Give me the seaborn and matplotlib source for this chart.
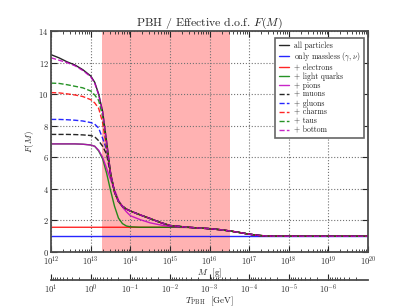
import numpy as np
import pandas as pd
import matplotlib
matplotlib.use("Agg")
import matplotlib.pyplot as plt
import seaborn as sns

# log10 of PBH mass in grams
log_m = [12.0, 12.2, 12.4, 12.6, 12.8, 13.0, 13.1, 13.2, 13.3, 13.4, 13.5, 13.6, 13.7,
         13.8, 13.9, 14.0, 14.25, 14.5, 14.75, 15.0, 15.5, 16.0, 16.25, 16.5, 16.75,
         17.0, 17.25, 17.5, 18.0, 19.0, 20.0]

tail = [1.56, 1.48, 1.42, 1.34, 1.24, 1.13, 1.05, 1.01, 1.0, 1.0, 1.0]  # 15.5 .. 20
common = [5.0, 3.8, 3.2, 2.9, 2.72, 2.6, 2.35, 2.12, 1.88, 1.68] + tail  # 13.5 .. 20

f_all = [12.5, 12.3, 12.05, 11.85, 11.55, 11.15, 10.75, 10.0, 8.9, 7.0] + common
f_massless = [1.0] * 31
f_electrons = [1.57] * 20 + tail
f_quarks = [6.85, 6.85, 6.85, 6.85, 6.83, 6.78, 6.7, 6.4, 5.9, 5.0, 3.9, 2.9, 2.15,
            1.8, 1.65, 1.6, 1.57, 1.57, 1.57, 1.57] + tail
f_pions = [6.85, 6.85, 6.85, 6.85, 6.83, 6.78, 6.7, 6.45, 6.0, 5.3, 4.6, 3.95, 3.3,
           2.85, 2.55, 2.3, 2.05, 1.85, 1.72, 1.62] + tail
f_muons = [7.45, 7.45, 7.45, 7.44, 7.42, 7.38, 7.3, 7.05, 6.7, 6.2, 4.9] + common[1:]
f_gluons = [8.4, 8.4, 8.38, 8.35, 8.3, 8.2, 8.1, 7.85, 7.2, 6.5] + common
f_charms = [10.1, 10.08, 10.02, 9.95, 9.85, 9.65, 9.45, 9.1, 8.2, 6.6] + common
f_taus = [10.7, 10.68, 10.6, 10.5, 10.4, 10.2, 9.95, 9.6, 8.6, 6.8] + common
f_bottom = [12.3, 12.15, 12.0, 11.8, 11.5, 11.1, 10.7, 9.95, 8.85, 6.95] + common

labels = ["all particles", r"only massless ($\gamma,\nu$)", "+ electrons", "+ light quarks",
          "+ pions", "+ muons", "+ gluons", "+ charms", "+ taus", "+ bottom"]
series = [f_all, f_massless, f_electrons, f_quarks, f_pions,
          f_muons, f_gluons, f_charms, f_taus, f_bottom]
colors = ["k", "b", "r", "g", "m", "k", "b", "r", "g", "m"]
styles = ["-", "-", "-", "-", "-", "--", "--", "--", "--", "--"]

# shaded mass window
span_lo, span_hi = 1.9e13, 3.3e16

sns.set_style("ticks")
plt.rcParams["font.family"] = ["cmr10", "DejaVu Serif"]
plt.rcParams["mathtext.fontset"] = "cm"
plt.rcParams["axes.unicode_minus"] = False
plt.rcParams["axes.formatter.use_mathtext"] = True

fig = plt.figure(figsize=(4.09, 3.07), dpi=100)
ax = fig.add_axes([0.125, 0.179, 0.775, 0.72])

m = 10.0 ** np.array(log_m)
for lab, vals, c, ls in zip(labels, series, colors, styles):
    sns.lineplot(x=m, y=vals, color=c, linestyle=ls, lw=1.0, alpha=0.85, label=lab, ax=ax)

ax.axvspan(span_lo, span_hi, color="r", alpha=0.3, lw=0, zorder=0)
ax.set_xscale("log")
ax.set_xlim(1e12, 1e20)
ax.set_ylim(0, 14)
ax.set_yticks(range(0, 15, 2))
ax.grid(True, which="major", ls=":", color="0.45", lw=0.8)
ax.tick_params(which="both", direction="in", top=True, right=True, labelsize=6.2, pad=1.8)
ax.tick_params(which="major", length=4)
ax.tick_params(which="minor", length=2)
for sp in ax.spines.values():
    sp.set_linewidth(1.3)
    sp.set_color("0.3")

ax.set_xlabel(r"$M$  [g]", fontsize=6.5, labelpad=0)
ax.xaxis.set_label_coords(0.5, -0.064)
ax.set_ylabel(r"$F(M)$", fontsize=6.5, labelpad=2)
ax.set_title(r"PBH / Effective d.o.f. $F(M)$", fontsize=8.5, pad=4)

leg = ax.legend(loc="upper right", fontsize=5.6, frameon=True, fancybox=False,
                handlelength=1.3, labelspacing=0.06, borderpad=0.45, handletextpad=0.7,
                bbox_to_anchor=(1.0, 0.985))
leg.get_frame().set_edgecolor("0.4")
leg.get_frame().set_linewidth(1.2)
leg.get_frame().set_alpha(1)

# temperature axis below
sec = ax.secondary_xaxis(-0.128, functions=(lambda x: 1e13 / x, lambda t: 1e13 / t))
sec.set_xticks([10.0 ** k for k in range(1, -7, -1)])
sec.tick_params(which="both", direction="in", labelsize=6.2, pad=1.5)
sec.tick_params(which="major", length=4)
sec.tick_params(which="minor", length=2)
sec.spines["bottom"].set_linewidth(1.3)
sec.spines["bottom"].set_color("0.3")
sec.set_xlabel(r"$T_{\mathrm{PBH}}$  [GeV]", fontsize=6.5, labelpad=-0.5)

fig.savefig("out.png", dpi=100)
